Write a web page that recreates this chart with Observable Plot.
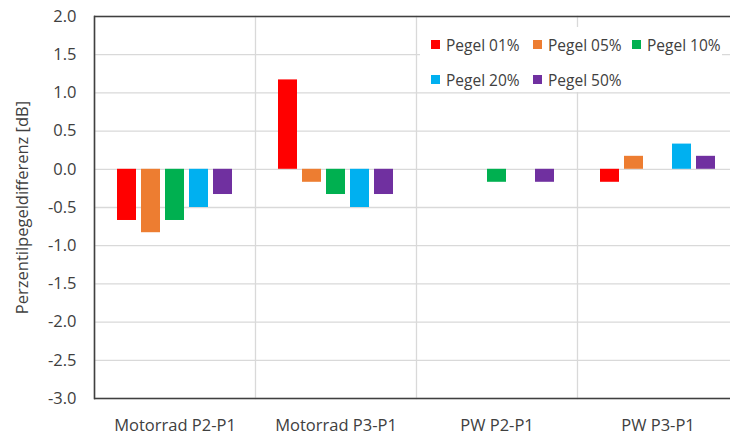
<!DOCTYPE html>
<html><head><meta charset="utf-8">
<script src="https://cdn.jsdelivr.net/npm/d3@7"></script>
<script src="https://cdn.jsdelivr.net/npm/@observablehq/plot@0.6"></script>
<style>
html,body{margin:0;padding:0;overflow:hidden;background:#fff;}
#wrap{position:relative;width:730px;height:435px;overflow:hidden;}
#wrap svg{position:absolute;left:0;top:0;max-width:none !important;}
#legend{position:absolute;left:420px;top:27px;width:302px;height:65px;background:#fff;font-family:"Open Sans",sans-serif;font-size:15.5px;color:#404040;display:grid;grid-template-columns:102px 99px 101px;grid-auto-rows:35px;padding-left:11px;box-sizing:border-box;}
#legend .item{display:flex;align-items:center;white-space:nowrap;}
#legend .sw{width:9px;height:9px;margin-right:6px;flex:none;}
</style></head><body><div id="wrap"></div>
<script>
const categories = ["Motorrad P2-P1", "Motorrad P3-P1", "PW P2-P1", "PW P3-P1"];
const series = ["Pegel 01%", "Pegel 05%", "Pegel 10%", "Pegel 20%", "Pegel 50%"];
const colors = ["#FF0000", "#ED7D31", "#00B050", "#00B0F0", "#7030A0"];
const pegel01 = [-0.67, 1.17, 0, -0.17];
const pegel05 = [-0.83, -0.17, 0, 0.17];
const pegel10 = [-0.67, -0.33, -0.17, 0];
const pegel20 = [-0.5, -0.5, 0, 0.33];
const pegel50 = [-0.33, -0.33, -0.17, 0.17];
const yTicks = [-3, -2.5, -2, -1.5, -1, -0.5, 0, 0.5, 1, 1.5, 2];
const yLabel = "Perzentilpegeldifferenz [dB]";

const seriesValues = [pegel01, pegel05, pegel10, pegel20, pegel50];
const data = series.flatMap((s, i) => categories.map((c, j) => ({category: c, series: s, value: seriesValues[i][j]})));

const ink = "#404040";
const chart = Plot.plot({
  width: 740, height: 435,
  marginLeft: 93, marginRight: 2, marginTop: 16, marginBottom: 37,
  style: {fontFamily: "'Open Sans', sans-serif", fontSize: "16.5px", color: ink, background: "white", maxWidth: "none"},
  fx: {domain: categories, padding: 0, label: null},
  x: {domain: series, paddingInner: 0.2, paddingOuter: 0.9, axis: null},
  y: {domain: [-3, 2]},
  color: {domain: series, range: colors},
  marks: [
    Plot.gridY(yTicks, {stroke: "#d9d9d9", strokeOpacity: 1, strokeWidth: 1.3}),
    Plot.frame({anchor: "left", stroke: "#d9d9d9", strokeWidth: 1.3}),
    Plot.barY(data, {fx: "category", x: "series", y: "value", fill: "series"}),
    Plot.ruleY([-3, 2], {stroke: ink, strokeWidth: 1.6}),
    Plot.frame({anchor: "left", facetAnchor: "left", stroke: ink, strokeWidth: 1.6}),
    Plot.axisY(yTicks, {tickSize: 0, tickPadding: 18, tickFormat: d => d.toFixed(1), label: yLabel, labelAnchor: "center", labelOffset: 78, labelArrow: "none", fill: ink, fontSize: 16.5}),
    Plot.axisFx({anchor: "bottom", tickSize: 0, tickPadding: 21, label: null, fill: ink, fontSize: 16.5})
  ]
});
const wrap = document.getElementById("wrap");
wrap.appendChild(chart);

const legend = d3.select(wrap).append("div").attr("id", "legend");
const items = legend.selectAll("div.item").data(series).join("div").attr("class", "item");
items.append("span").attr("class", "sw").style("background", (d, i) => colors[i]);
items.append("span").text(d => d);
</script>
</body></html>
